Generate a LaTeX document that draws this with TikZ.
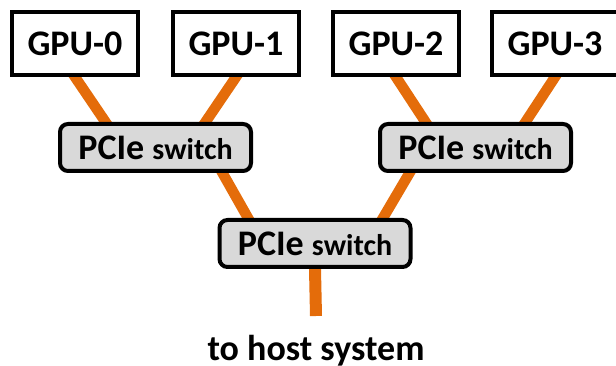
\documentclass[tikz,border=0pt]{standalone}
\usepackage{fontspec}
\setmainfont{Carlito}
\usepackage{tikz}
\usetikzlibrary{positioning,backgrounds}
\definecolor{linkorange}{RGB}{228,108,10}
\definecolor{switchgray}{RGB}{217,217,217}

\begin{document}
\begin{tikzpicture}[
        x=1pt, y=-1pt,
        gpu/.style={rectangle, draw, fill=white, line width=4pt, minimum width=126pt, minimum height=63pt, inner sep=0pt, font=\fontsize{36}{40}\selectfont\bfseries},
        switch/.style={rectangle, rounded corners=8pt, draw, fill=switchgray, line width=4pt, minimum width=191pt, minimum height=47pt, inner sep=0pt, font=\fontsize{36}{40}\selectfont\bfseries},
        link/.style={draw=linkorange, line width=10.5pt, shorten <=-6pt, shorten >=-6pt}
    ]
        \useasboundingbox (0,0) rectangle (616,366);

        % GPUs
        \node[gpu] (G0) at (75,43.5) {GPU-0};
        \node[gpu] (G1) at (236,43.5) {GPU-1};
        \node[gpu] (G2) at (396,43.5) {GPU-2};
        \node[gpu] (G3) at (555,43.5) {GPU-3};

        % Switches
        \node[switch] (S0) at (155.5,147.5) {PCIe {\fontsize{30}{36}\selectfont switch}};
        \node[switch] (S1) at (475.5,147.5) {PCIe {\fontsize{30}{36}\selectfont switch}};
        \node[switch] (S2) at (315,243.5) {PCIe {\fontsize{30}{36}\selectfont switch}};

        % Host
        \coordinate (H) at (316,316);
        \node[anchor=base, font=\fontsize{36}{40}\selectfont\bfseries] (host) at (316,360) {to host system};

        % Links
        \begin{scope}[on background layer]
            \draw[link] (G0.south) -- ([xshift=-50pt]S0.north);
            \draw[link] (G1.south) -- ([xshift=50pt]S0.north);
            \draw[link] (G2.south) -- ([xshift=-50pt]S1.north);
            \draw[link] (G3.south) -- ([xshift=50pt]S1.north);
            \draw[link] ([xshift=67pt]S0.south) -- ([xshift=-67pt]S2.north);
            \draw[link] ([xshift=-66pt]S1.south) -- ([xshift=68pt]S2.north);
            \draw[link, line width=12pt, shorten >=0pt] (S2.south) -- (H);
        \end{scope}
    \end{tikzpicture}
\end{document}
